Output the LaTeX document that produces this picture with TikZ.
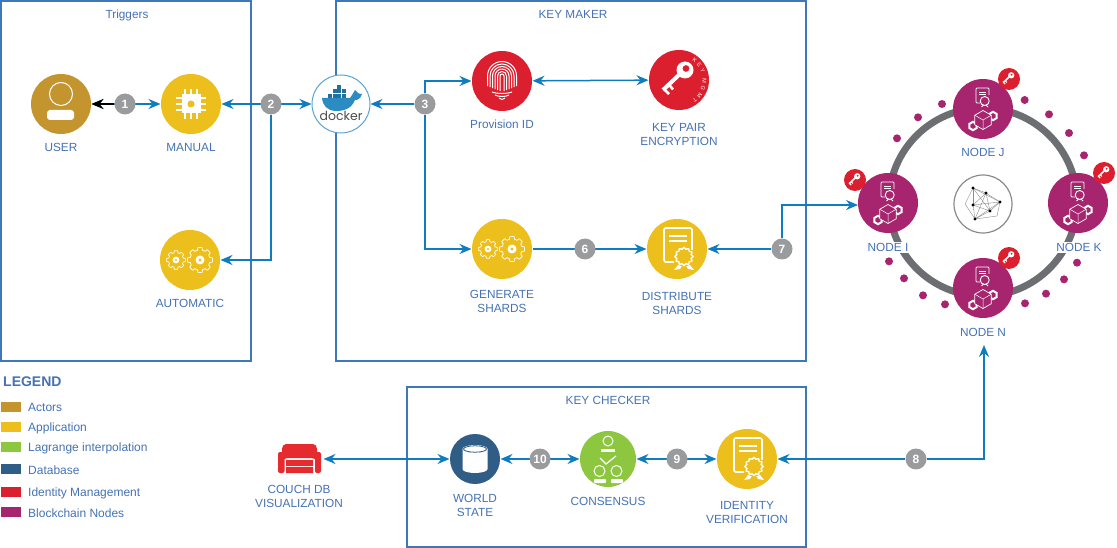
\documentclass[tikz,border=0pt]{standalone}
\usepackage{fontspec}
\setmainfont{Liberation Sans}
\newfontfamily\dockerfont{Poppins}
\usepackage{tikz}
\usetikzlibrary{shapes, arrows.meta, positioning, decorations.text}

\definecolor{actorgold}{HTML}{C4952F}
\definecolor{appyellow}{HTML}{ECBF1C}
\definecolor{idred}{HTML}{DB1F2E}
\definecolor{couchred}{HTML}{E52B2E}
\definecolor{lagrangegreen}{HTML}{8DC63F}
\definecolor{dbnavy}{HTML}{2F5D85}
\definecolor{chainpurple}{HTML}{A6256E}
\definecolor{badgegrey}{HTML}{9A9B9D}
\definecolor{ringgrey}{HTML}{6D6E71}
\definecolor{framecol}{HTML}{3E78B8}
\definecolor{textcol}{HTML}{4472B4}
\definecolor{linkcol}{HTML}{0F7BC1}
\definecolor{whalecol}{HTML}{2B8CC4}

\tikzset{
    frame/.style={draw=framecol, line width=1.5pt},
    bigdot/.style={circle, minimum size=60pt, inner sep=0pt, outer sep=.5pt},
    keydot/.style={circle, fill=idred, minimum size=22pt, inner sep=0pt},
    lbl/.style={text=textcol, font=\fontsize{11.8}{14}\selectfont, align=center, inner sep=0pt},
    link/.style={draw=linkcol, line width=1.5pt},
    badge/.style={circle, fill=badgegrey, text=white, minimum size=21pt, inner sep=0pt,
        font=\fontsize{12}{12}\selectfont\bfseries},
    swatch/.style={minimum width=20pt, minimum height=10pt, inner sep=0pt},
    swatchtext/.style={lbl, anchor=west, font=\fontsize{12}{14}\selectfont},
    pdot/.style={circle, fill=chainpurple, minimum size=8pt, inner sep=0pt},
    % icons
    personicon/.pic={
        \draw[white, line width=1pt] (0,10) circle[radius=11.5];
        \fill[white, rounded corners=3pt] (-14,-16) -- (-14,-6) -- (13,-6) -- (13,-16) -- cycle;
    },
    chipicon/.pic={
        \foreach \p in {-6,0,6} {
            \draw[white, line width=2.5pt] (\p,-15) -- (\p,15);
            \draw[white, line width=2.5pt] (-15,\p) -- (15,\p);
        }
        \fill[white] (-9.5,-9.5) rectangle (9.5,9.5);
        \fill[appyellow] (0,0) circle[radius=3.5];
    },
    gearicon/.pic={
        \foreach \gx/\gr in {-14/7.5, 10/10} {
            \draw[white, line width=.7pt] plot[domain=0:360, samples=73]
                ({\gx+\gr*(1+0.25*(cos(8*\x)>0))*cos(\x)}, {\gr*(1+0.25*(cos(8*\x)>0))*sin(\x)}) -- cycle;
            \fill[white] (\gx,0) circle[radius=.45*\gr];
            \fill[appyellow] (\gx,0) circle[radius=.16*\gr];
        }
    },
    certicon/.pic={
        \draw[white, line width=1.6pt, rounded corners=2pt] (-3,-13) -- (-13,-13) -- (-13,21) -- (15,21) -- (15,-1);
        \draw[white, line width=1.6pt] (-8,13) -- (10,13) (-8,8) -- (10,8);
        \fill[white] (1,-16) -- (-3,-21) -- (3,-20) -- (6,-15) -- cycle;
        \fill[white] (13,-16) -- (17,-21) -- (11,-20) -- (8,-15) -- cycle;
        \fill[appyellow] (7,-7.5) circle[radius=10];
        \draw[white, line width=1.4pt] plot[domain=0:360, samples=73]
            ({7+(8.2+0.8*cos(12*\x))*cos(\x)}, {-7.5+(8.2+0.8*cos(12*\x))*sin(\x)}) -- cycle;
    },
    chainicon/.pic={
        % small certificate
        \draw[white, line width=.8pt, rounded corners=1pt] (-3,6) -- (-7,6) -- (-7,21) -- (6,21) -- (6,14);
        \draw[white, line width=.9pt] (-4,17) -- (3,17) (-4,14.5) -- (3,14.5);
        \draw[white, line width=.9pt] (1.7,8) circle[radius=4.5];
        \draw[white, line width=.9pt] (-1.5,2) -- (0.5,4) (5,2) -- (3,4);
        % blocks
        \foreach \hx/\hy/\hr/\hw in {-10/-17/4.2/2, 10/-7/4.2/2, 0/-11/9.5/.7} {
            \draw[white, line width=\hw pt, fill=chainpurple]
                (\hx,\hy) ++(90:\hr) -- ++(-30:\hr) -- ++(-90:\hr) -- ++(-150:\hr) -- ++(150:\hr) -- ++(90:\hr) -- cycle;
        }
        \draw[white, line width=.5pt] (0,-11) -- (-8.2,-6.2) (0,-11) -- (8.2,-6.2) (0,-11) -- (0,-20.5);
    },
}

\begin{document}
\begin{tikzpicture}[x=1pt, y=1pt, >={Stealth[length=12pt, width=10pt, inset=4pt]}]
    \useasboundingbox (0,0) rectangle (1117,-548);

    % Boxes
    \node[frame, minimum width=250pt, minimum height=360pt, inner sep=0pt] (triggers) at (126,-181) {};
    \node[frame, minimum width=470pt, minimum height=360pt, inner sep=0pt] (keymaker) at (571,-181) {};
    \node[frame, minimum width=399pt, minimum height=160pt, inner sep=0pt] (keychecker) at (606.5,-467) {};
    \node[lbl] (triggerstitle) at (127,-15.5) {Triggers};
    \node[lbl] (makertitle) at (573,-14.5) {KEY MAKER};
    \node[lbl] (checkertitle) at (608,-400.5) {KEY CHECKER};

    % Triggers
    \node[bigdot, fill=actorgold] (user) at (61,-104) {};
    \node[bigdot, fill=appyellow] (manual) at (191,-104) {};
    \node[bigdot, fill=appyellow] (automatic) at (190,-260) {};
    \pic at (user.center) {personicon};
    \pic at (manual.center) {chipicon};
    \pic at (automatic.center) {gearicon};
    \node[lbl] (userlbl) at (61,-147.5) {USER};
    \node[lbl] (manuallbl) at (191,-147.5) {MANUAL};
    \node[lbl] (automaticlbl) at (190,-303.5) {AUTOMATIC};

    % Docker
    \node[bigdot, fill=white, draw=linkcol!70!white, line width=1pt, minimum size=58pt] (docker) at (341,-104) {};
    \foreach \cx/\cy in {-13/6, -8.5/6, -4/6, 0.5/6, -8.5/10.5, -4/10.5, 0.5/10.5, -4/15} {
        \fill[whalecol!80!black] (341+\cx,-104+\cy) rectangle ++(4,4);
    }
    \fill[whalecol] (322,-98) -- (350,-98) .. controls (352,-96) and (353,-93) .. (355,-90)
        .. controls (357,-92) and (358,-94) .. (362,-94) -- (360,-98)
        .. controls (358,-100) and (356,-100) .. (355,-100)
        .. controls (351,-110) and (342,-111) .. (335,-111)
        .. controls (327,-110) and (323,-106) .. (322,-98) -- cycle;
    \node[text=black!70, font=\fontsize{12.5}{13}\dockerfont, inner sep=0pt] (dockerlbl) at (341,-116) {docker};

    % Key maker
    \node[bigdot, fill=idred] (provision) at (502,-81) {};
    \node[bigdot, fill=idred] (keypair) at (679,-80) {};
    \node[bigdot, fill=appyellow] (generate) at (502,-249) {};
    \node[bigdot, fill=appyellow] (distribute) at (677,-249) {};
    \foreach \fr in {2,4.5,7,9.5,12,14.5} {
        \draw[white, line width=1pt] (502-\fr,-92+.4*\fr) -- (502-\fr,-76) arc(180:0:\fr) -- (502+\fr,-92+.4*\fr);
    }
    \foreach \fy/\fw in {-94/10, -97/7, -100/3} {
        \draw[white, line width=1pt] (502-\fw,\fy+2) .. controls (502-\fw/2,\fy) and (502+\fw/2,\fy) .. (502+\fw,\fy+2);
    }
    \begin{scope}[shift={(keypair.center)}]
        \draw[white, line width=4pt] (-16,-10) -- (2,7);
        \draw[white, line width=2.6pt] (-15,-9) -- (-10,-14) (-10,-4.5) -- (-6,-9.5);
        \fill[white, even odd rule] (6,10) circle[radius=8.5] (7,11.5) circle[radius=3.5];
        \path[decorate, decoration={text along path, text align={fit to path}, text color=white,
            text={|\fontsize{5.6}{7}\selectfont|KEY MGMT}}] (56:23.5) arc(56:-56:23.5);
    \end{scope}
    \pic at (generate.center) {gearicon};
    \pic at (distribute.center) {certicon};
    \node[lbl] (provisionlbl) at (502,-124.5) {Provision ID};
    \node[lbl] (keypairlbl) at (679,-134) {KEY PAIR\\ENCRYPTION};
    \node[lbl] (generatelbl) at (502,-301) {GENERATE\\SHARDS};
    \node[lbl] (distributelbl) at (677,-303) {DISTRIBUTE\\SHARDS};

    % Key checker
    \node[bigdot, fill=dbnavy, minimum size=50pt] (world) at (475,-459) {};
    \node[bigdot, fill=lagrangegreen, minimum size=56pt] (consensus) at (608,-459) {};
    \node[bigdot, fill=appyellow] (identity) at (747,-459) {};
    \fill[white] (462.5,-449) arc(180:360:12.5 and 4) -- (487.5,-469) arc(0:-180:12.5 and 4) -- cycle;
    \fill[white] (475,-449) ellipse[x radius=12.5, y radius=4];
    \draw[dbnavy, line width=.8pt] (475,-449) ellipse[x radius=11.5, y radius=3.2];
    \draw[white, line width=1pt] (608,-441) circle[radius=5];
    \fill[white] (601,-452) rectangle (615,-449);
    \draw[white, line width=1.2pt] (600,-458) -- (606,-464) -- (616,-456);
    \draw[white, line width=1pt] (599.5,-471) circle[radius=5.5] (616.5,-471) circle[radius=5.5];
    \fill[white, rounded corners=.8pt] (594,-483) rectangle (606,-479) (611,-483) rectangle (623,-479);
    \pic at (identity.center) {certicon};
    \node[lbl] (worldlbl) at (475,-505) {WORLD\\STATE};
    \node[lbl] (consensuslbl) at (608,-501.5) {CONSENSUS};
    \node[lbl] (identitylbl) at (747,-512) {IDENTITY\\VERIFICATION};

    % Couch
    \node[minimum width=44pt, minimum height=30pt, inner sep=0pt, outer sep=2pt] (couch) at (299.5,-459) {};
    \fill[couchred, rounded corners=2pt] (282,-460) -- (282,-447) -- (284,-444) -- (315,-444) -- (317,-447) -- (317,-460) -- (313,-458) -- (286,-458) -- cycle;
    \fill[couchred, rounded corners=2pt] (278,-473) rectangle (284.5,-452) (315,-473) rectangle (321,-452);
    \fill[couchred] (286,-466) rectangle (313,-460) (286,-473) rectangle (313,-467);
    \node[lbl] (couchlbl) at (299,-496) {COUCH DB\\VISUALIZATION};

    % Ring
    \draw[ringgrey, line width=7pt] (983,-202) circle[radius=94];
    \foreach \dx/\dy in {306/132, 234/172, 171/235, 554/120, 627/163, 687/219, 732/286,
        147/604, 192/655, 249/706, 315/733, 555/730, 618/701, 672/658, 711/608} {
        \node[pdot] at (840+\dx/3,-60-\dy/3) {};
    }
    \node[bigdot, fill=chainpurple] (nodej) at (983,-109) {};
    \node[bigdot, fill=chainpurple] (nodei) at (888,-203) {};
    \node[bigdot, fill=chainpurple] (nodek) at (1078,-203) {};
    \node[bigdot, fill=chainpurple] (noden) at (983,-288) {};
    \foreach \n in {nodej, nodei, nodek, noden} {
        \pic at (\n.center) {chainicon};
    }
    \node[lbl] (nodejlbl) at (983,-152.5) {NODE J};
    \node[lbl, fill=white, inner sep=1pt] (nodeilbl) at (888,-247.5) {NODE I};
    \node[lbl, fill=white, inner sep=1pt] (nodeklbl) at (1079,-247.5) {NODE K};
    \node[lbl] (nodenlbl) at (983,-332.5) {NODE N};
    \node[keydot] (keyj) at (1009,-79) {};
    \node[keydot] (keyi) at (855,-180) {};
    \node[keydot] (keyk) at (1104,-173) {};
    \node[keydot] (keyn) at (1009,-258) {};
    \foreach \k in {keyj, keyi, keyk, keyn} {
        \begin{scope}[shift={(\k.center)}, scale=.37]
            \draw[white, line width=1.6pt] (-16,-10) -- (2,7);
            \draw[white, line width=1pt] (-15,-9) -- (-10,-14) (-10,-4.5) -- (-6,-9.5);
            \fill[white, even odd rule] (6,10) circle[radius=8.5] (7,11.5) circle[radius=3.5];
        \end{scope}
    }

    % Hub
    \node[circle, draw=ringgrey!80!white, fill=white, line width=1.2pt, minimum size=58pt, inner sep=0pt] (hub) at (983,-204) {};
    \foreach \ax/\ay/\bx/\by in {-10/16/3/11, 3/11/17/2, 17/2/7/-7, 7/-7/-8/-15, -8/-15/-10/-1, -10/-1/-10/16,
        -10/16/7/-7, 3/11/-10/-1, 3/11/-8/-15, 17/2/-10/-1, -10/-1/7/-7, 3/11/7/-7,
        -10/16/17/2, 17/2/-8/-15, -10/16/-18/0, -18/0/-8/-15, 17/2/14/-12, 14/-12/-8/-15} {
        \draw[black!45, line width=.4pt] (983+\ax,-204+\ay) -- (983+\bx,-204+\by);
    }
    \foreach \hx/\hy in {-10/16, 3/11, 17/2, -10/-1, 7/-7, -8/-15} {
        \fill[black] (983+\hx,-204+\hy) circle[radius=1.6];
    }

    % Arrows
    \coordinate (nodeiin) at (858,-205);
    \coordinate (nodenin) at (984,-345);
    \draw[link, <->] (user) -- (manual);
    \draw[link, <->] (manual) -- (docker);
    \draw[link, <->] (provision) -- (keypair);
    \draw[link, ->] (generate) -- (distribute);
    \draw[link, <->] (couch) -- (world);
    \draw[link, <->] (world) -- (consensus);
    \draw[link, <->] (consensus) -- (identity);

    % Badges
    \node[badge] (b1) at (125,-104) {1};
    \node[badge] (b2) at (271,-104) {2};
    \node[badge] (b3) at (425,-104) {3};
    \node[badge] (b6) at (585,-249) {6};
    \node[badge] (b7) at (782,-249) {7};
    \node[badge] (b8) at (916,-459) {8};
    \node[badge] (b9) at (677,-459) {9};
    \node[badge] (b10) at (540,-459) {10};

    % Arrows from badges
    \draw[->, line width=1.5pt] (b1) -- (user);
    \draw[link, ->] (b2) |- (automatic);
    \draw[link, ->] (b3) -- (docker);
    \draw[link, ->] (b3) |- (provision);
    \draw[link, ->] (b3) |- (generate);
    \draw[link, ->] (b7) -- (distribute);
    \draw[link, ->] (b7) |- (nodeiin);
    \draw[link, ->] (b8) -- (identity);
    \draw[link, ->] (b8) -| (nodenin);

    % Legend
    \node[anchor=west, inner sep=0pt, text=textcol, font=\fontsize{14}{16}\selectfont\bfseries] (legend) at (3,-382) {LEGEND};
    \node[swatch, fill=actorgold, anchor=west] (s1) at (1,-407) {};
    \node[swatch, fill=appyellow, anchor=west] (s2) at (1,-427) {};
    \node[swatch, fill=lagrangegreen, anchor=west] (s3) at (1,-447) {};
    \node[swatch, fill=dbnavy, anchor=west] (s4) at (1,-469) {};
    \node[swatch, fill=idred, anchor=west] (s5) at (1,-492) {};
    \node[swatch, fill=chainpurple, anchor=west] (s6) at (1,-512) {};
    \node[swatchtext] (t1) at (28,-407) {Actors};
    \node[swatchtext] (t2) at (28,-428) {Application};
    \node[swatchtext] (t3) at (28,-448) {Lagrange interpolation};
    \node[swatchtext] (t4) at (28,-470) {Database};
    \node[swatchtext] (t5) at (28,-493) {Identity Management};
    \node[swatchtext] (t6) at (28,-513) {Blockchain Nodes};
\end{tikzpicture}
\end{document}
